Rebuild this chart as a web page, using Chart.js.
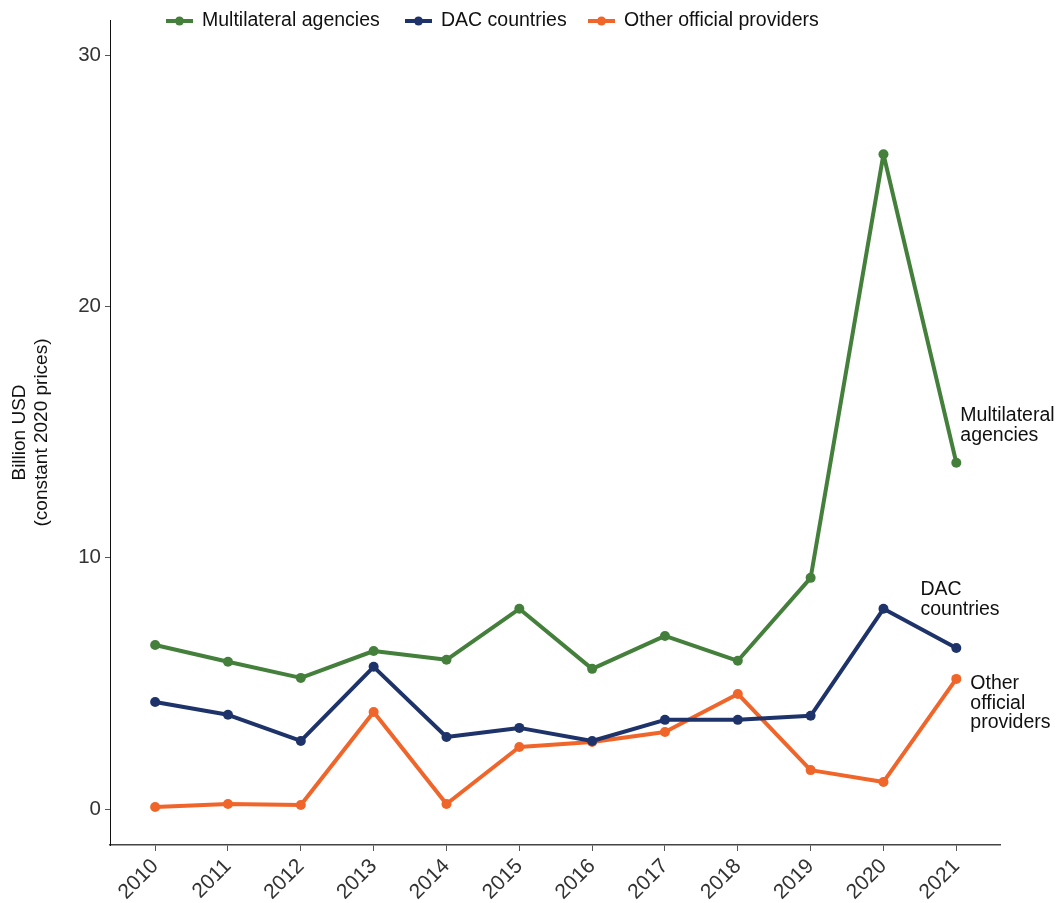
<!DOCTYPE html>
<html lang="en">
<head>
  <meta charset="UTF-8" />
  <title>Official providers</title>
  <script src="https://cdn.jsdelivr.net/npm/chart.js"></script>
  <style>
    body { margin: 0; background: #fff; }
    #wrap { width: 1056px; height: 903px; position: relative; }
  </style>
</head>
<body>
  <div id="wrap"><canvas id="grafico" width="1056" height="903"></canvas></div>
  <script>
    const years = [2010, 2011, 2012, 2013, 2014, 2015, 2016, 2017, 2018, 2019, 2020, 2021];
    const multilateral = [6.53, 5.86, 5.22, 6.29, 5.94, 7.97, 5.58, 6.89, 5.90, 9.20, 26.06, 13.78];
    const dac = [4.26, 3.75, 2.71, 5.66, 2.87, 3.23, 2.71, 3.55, 3.55, 3.71, 7.97, 6.41];
    const other = [0.08, 0.20, 0.16, 3.86, 0.20, 2.47, 2.67, 3.07, 4.58, 1.55, 1.08, 5.18];
    const yTicks = [0, 10, 20, 30];

    const seriesNames = ['Multilateral agencies', 'DAC countries', 'Other official providers'];
    const colors = ['#44803B', '#1F336B', '#F0652A'];
    const FONT = '"Liberation Sans", Arial, sans-serif';

    function pts(vals) {
      return vals.map((v, i) => ({ x: years[i], y: v }));
    }

    // legenda e rótulos no fim das linhas
    const extras = {
      id: 'extras',
      afterDraw(chart) {
        const ctx = chart.ctx;
        const xs = chart.scales.x, ys = chart.scales.y;
        ctx.save();
        ctx.font = '19.5px ' + FONT;
        ctx.textBaseline = 'middle';
        const legendX = [166, 405, 588];
        seriesNames.forEach((n, i) => {
          const x0 = legendX[i];
          ctx.strokeStyle = colors[i];
          ctx.lineWidth = 4;
          ctx.beginPath(); ctx.moveTo(x0, 21); ctx.lineTo(x0 + 27, 21); ctx.stroke();
          ctx.fillStyle = colors[i];
          ctx.beginPath(); ctx.arc(x0 + 13.5, 21, 4.5, 0, Math.PI * 2); ctx.fill();
          ctx.fillStyle = '#111';
          ctx.textAlign = 'left';
          ctx.fillText(n, x0 + 36, 21);
        });

        ctx.font = '19.5px ' + FONT;
        ctx.fillStyle = '#111';
        ctx.textAlign = 'left';
        const last = years.length - 1;
        let px = xs.getPixelForValue(years[last]);
        let py = ys.getPixelForValue(multilateral[last]);
        ctx.fillText('Multilateral', px + 4, py - 47);
        ctx.fillText('agencies', px + 4, py - 27);
        px = xs.getPixelForValue(years[last - 1]);
        py = ys.getPixelForValue(dac[last - 1]);
        ctx.fillText('DAC', px + 37, py - 19);
        ctx.fillText('countries', px + 37, py + 1);
        px = xs.getPixelForValue(years[last]);
        py = ys.getPixelForValue(other[last]);
        ctx.fillText('Other', px + 14, py + 5);
        ctx.fillText('official', px + 14, py + 25);
        ctx.fillText('providers', px + 14, py + 44);
        ctx.restore();
      }
    };

    const datasets = [multilateral, dac, other].map((vals, i) => ({
      label: seriesNames[i],
      data: pts(vals),
      borderColor: colors[i],
      backgroundColor: colors[i],
      borderWidth: 4,
      borderJoinStyle: 'round',
      borderCapStyle: 'round',
      pointRadius: 5,
      pointBorderWidth: 0,
      tension: 0
    }));

    new Chart(document.getElementById('grafico'), {
      type: 'line',
      data: { datasets },
      plugins: [extras],
      options: {
        responsive: false,
        animation: false,
        layout: { padding: { top: 20, right: 56, left: 0, bottom: 0 } },
        plugins: { legend: { display: false }, tooltip: { enabled: false } },
        scales: {
          x: {
            type: 'linear',
            min: 2009.38,
            max: 2021.6,
            afterFit(s) { s.height = 58; },
            afterBuildTicks(s) { s.ticks = years.map(v => ({ value: v })); },
            ticks: {
              maxRotation: 45, minRotation: 45,
              color: '#333',
              font: { family: FONT, size: 21 },
              padding: 3,
              callback: v => String(v)
            },
            grid: { drawOnChartArea: false, drawTicks: true, tickLength: 6, color: '#555' },
            border: { color: '#444', width: 1.5 }
          },
          y: {
            min: -1.43,
            max: 31.4,
            afterFit(s) { s.width = 110; },
            afterBuildTicks(s) { s.ticks = yTicks.map(v => ({ value: v })); },
            ticks: { color: '#333', font: { family: FONT, size: 20.5 }, padding: 4 },
            grid: { drawOnChartArea: false, drawTicks: true, tickLength: 5, color: '#555' },
            border: { color: '#111', width: 1 },
            title: {
              display: true,
              text: ['Billion USD', '(constant 2020 prices)'],
              color: '#111',
              font: { family: FONT, size: 19 },
              padding: { top: 8, bottom: 0 }
            }
          }
        }
      }
    });
  </script>
</body>
</html>
